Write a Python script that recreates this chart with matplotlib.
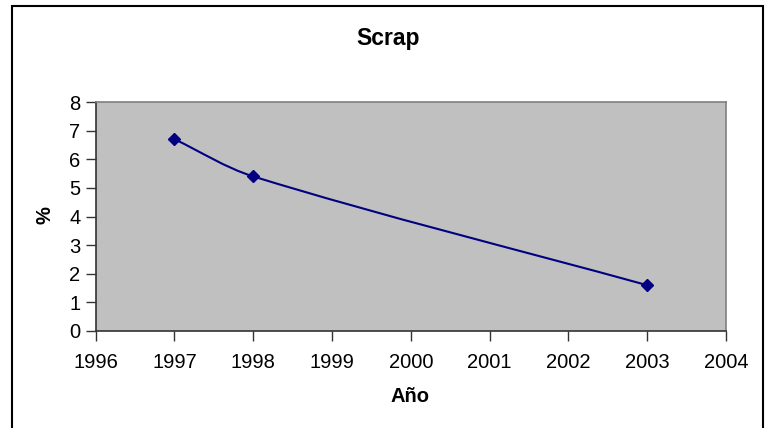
import matplotlib
matplotlib.use("Agg")
import matplotlib.pyplot as plt
from matplotlib.path import Path
from matplotlib.patches import PathPatch, Rectangle
import numpy as np

plt.rcParams['font.family'] = ['Liberation Sans', 'DejaVu Sans']

years = [1997, 1998, 2003]
scrap = [6.7, 5.4, 1.6]
x_ticks = [1996, 1997, 1998, 1999, 2000, 2001, 2002, 2003, 2004]
y_ticks = [0, 1, 2, 3, 4, 5, 6, 7, 8]
title = "Scrap"
xlabel = "Año"
ylabel = "%"

W, H = 766, 428
fig = plt.figure(figsize=(W / 100, H / 100), dpi=100)
fig.patch.set_facecolor('white')

# chart-area border
fig.patches.append(Rectangle((12 / W, -0.01), (763 - 12) / W, (H - 6) / H + 0.01,
                             transform=fig.transFigure, fill=False,
                             edgecolor='black', linewidth=1.5, clip_on=False))

ax = fig.add_axes([95.7 / W, 1 - 331 / H, (726 - 95.7) / W, (331 - 102) / H])
ax.set_facecolor('#C0C0C0')
ax.set_xlim(x_ticks[0], x_ticks[-1])
ax.set_ylim(y_ticks[0], y_ticks[-1])
ax.set_xticks(x_ticks)
ax.set_yticks(y_ticks)
ax.set_xticklabels([str(t) for t in x_ticks])
ax.set_yticklabels([str(t) for t in y_ticks])

for s in ['top', 'right']:
    ax.spines[s].set_color('#808080')
    ax.spines[s].set_linewidth(1.2)
for s in ['left', 'bottom']:
    ax.spines[s].set_color('#333333')
    ax.spines[s].set_linewidth(1.2)

ax.tick_params(axis='both', direction='out', length=7, width=1, colors='#333333',
               labelsize=14.5, labelcolor='black')
ax.tick_params(axis='x', pad=9)
ax.tick_params(axis='y', pad=4)

# Excel-style smoothed line: Bezier through the data points, tangents computed in pixel space
pts = ax.transData.transform(np.column_stack([years, scrap]).astype(float))
n = len(pts)
verts = [pts[0]]
codes = [Path.MOVETO]
def tangent(i):
    a = pts[i - 1] if i > 0 else pts[i]
    b = pts[i + 1] if i + 1 < n else pts[i]
    d = b - a
    return d / np.hypot(*d)
for i in range(n - 1):
    p0, p1 = pts[i], pts[i + 1]
    L = np.hypot(*(p1 - p0))
    c1 = p0 + tangent(i) * L / 3.0
    c2 = p1 - tangent(i + 1) * L / 3.0
    verts += [c1, c2, p1]
    codes += [Path.CURVE4] * 3
verts = ax.transData.inverted().transform(np.array(verts))
path = Path(verts, codes)
ax.add_patch(PathPatch(path, facecolor='none', edgecolor='#000080', linewidth=1.5, zorder=3))
ax.plot(years, scrap, linestyle='none', marker='D', markersize=6.5,
        color='#000080', zorder=4)

fig.text(388 / W, 1 - 38 / H, title, ha='center', va='center',
         fontsize=16.5, fontweight='bold')
fig.text(410 / W, 1 - 396 / H, xlabel, ha='center', va='center',
         fontsize=14.5, fontweight='bold')
fig.text(45 / W, 1 - 215 / H, ylabel, ha='center', va='center',
         fontsize=14.5, fontweight='bold', rotation=90)

fig.savefig('out.png', dpi=100)
